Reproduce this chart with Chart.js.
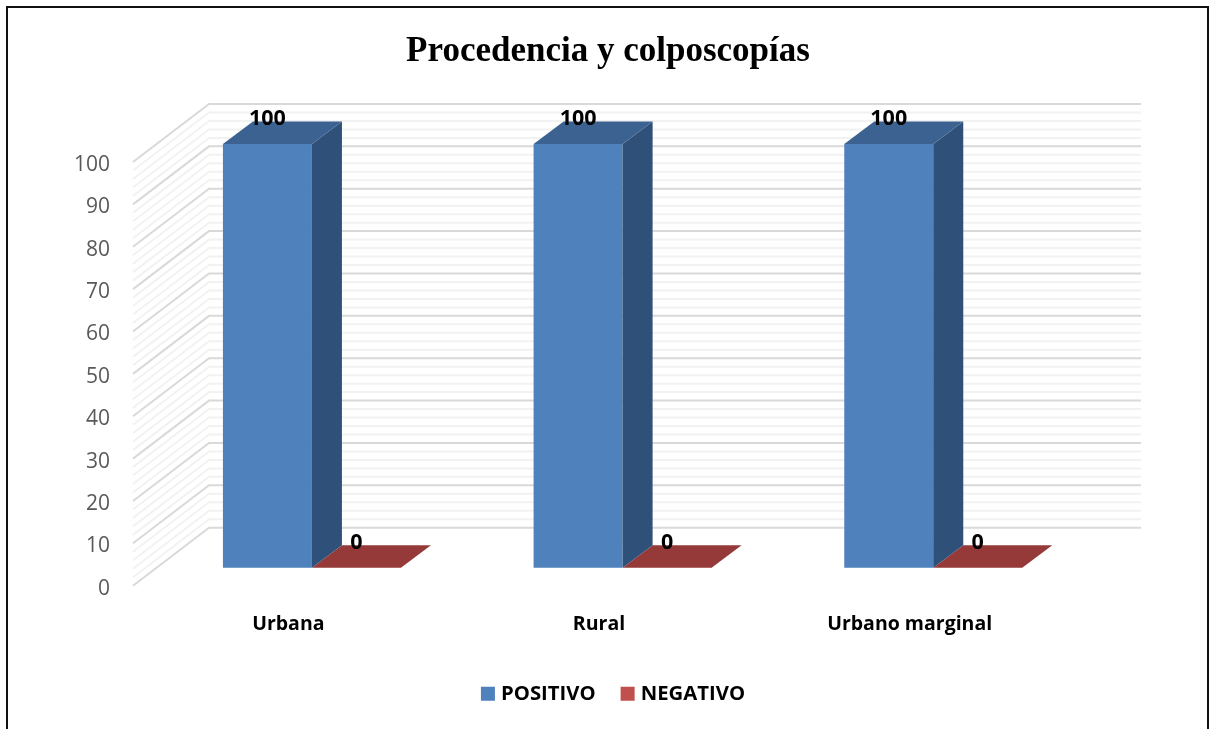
<!DOCTYPE html>
<html>
<head>
<meta charset="utf-8">
<title>Procedencia y colposcopías</title>
<script src="https://cdn.jsdelivr.net/npm/chart.js@4"></script>
<style>
  html, body { margin: 0; padding: 0; background: #fff; }
  #frame {
    position: absolute; left: 6px; top: 6px; width: 1199px; height: 723px;
    border: 2px solid #111; border-bottom: none;
  }
  #chart { position: absolute; left: 0; top: 0; }
</style>
</head>
<body>
<div id="frame"></div>
<canvas id="chart" width="1209" height="729"></canvas>
<script>
const chartTitle = "Procedencia y colposcopías";
const categories = ["Urbana", "Rural", "Urbano marginal"];
const positivo = [100, 100, 100];
const negativo = [0, 0, 0];
const seriesNames = ["POSITIVO", "NEGATIVO"];
const frontColors = ["#4f81bd", "#c0504d"];
const topColors = ["#3c6291", "#953a38"];
const sideColors = ["#2f5078", "#7a2f2d"];

// fake 3d: how far the back wall and the bars sit behind the axis plane
const wallDepth = { x: 76, y: -58 };
const barOffset = { x: 23.6, y: -18 };
const barDepth = { x: 30, y: -22.5 };

const uiFont = "'Open Sans', sans-serif";

function face(ctx, color, pts) {
  ctx.fillStyle = color;
  ctx.beginPath();
  pts.forEach((p, i) => (i === 0 ? ctx.moveTo(p[0], p[1]) : ctx.lineTo(p[0], p[1])));
  ctx.closePath();
  ctx.fill();
}

const fake3d = {
  id: "fake3d",
  // legend sits a bit right of the page centre
  afterLayout(chart) {
    chart.legend.left += 7;
    chart.legend.right += 7;
  },
  // side wall and back wall grid, major every 10, minor every 2
  beforeDatasetsDraw(chart) {
    const { ctx, chartArea, scales } = chart;
    const y = scales.y;
    const wallRight = chartArea.right + wallDepth.x;
    ctx.save();
    for (let v = 0; v <= 100; v += 2) {
      const py = y.getPixelForValue(v);
      ctx.strokeStyle = v % 10 === 0 ? "#d9d9d9" : "#f2f2f2";
      ctx.lineWidth = 2;
      ctx.beginPath();
      ctx.moveTo(chartArea.left, py);
      ctx.lineTo(chartArea.left + wallDepth.x, py + wallDepth.y);
      ctx.lineTo(wallRight, py + wallDepth.y);
      ctx.stroke();
    }
    ctx.restore();
  },
  beforeDatasetDraw(chart) {
    chart.ctx.save();
    chart.ctx.translate(barOffset.x, barOffset.y);
  },
  afterDatasetDraw(chart, args) {
    const ctx = chart.ctx;
    const i = args.index;
    args.meta.data.forEach((bar) => {
      const l = bar.x - bar.width / 2;
      const r = bar.x + bar.width / 2;
      const t = bar.y;
      const b = bar.base;
      const dx = barDepth.x;
      const dy = barDepth.y;
      if (b > t) {
        face(ctx, sideColors[i], [[r, t], [r + dx, t + dy], [r + dx, b + dy], [r, b]]);
      }
      face(ctx, topColors[i], [[l, t], [r, t], [r + dx, t + dy], [l + dx, t + dy]]);
    });
    ctx.restore();
  },
  afterDatasetsDraw(chart) {
    const ctx = chart.ctx;
    ctx.save();
    ctx.font = "bold 21.5px " + uiFont;
    ctx.fillStyle = "#000";
    ctx.textAlign = "center";
    ctx.textBaseline = "middle";
    chart.data.datasets.forEach((ds, i) => {
      chart.getDatasetMeta(i).data.forEach((bar, j) => {
        ctx.fillText(ds.data[j], bar.x + barOffset.x, bar.y + barOffset.y - 25);
      });
    });
    ctx.restore();
  },
};

new Chart(document.getElementById("chart"), {
  type: "bar",
  data: {
    labels: categories,
    datasets: [
      { label: seriesNames[0], data: positivo, backgroundColor: frontColors[0], clip: false },
      { label: seriesNames[1], data: negativo, backgroundColor: frontColors[1], clip: false },
    ],
  },
  options: {
    responsive: false,
    animation: false,
    barPercentage: 1,
    categoryPercentage: 0.573,
    layout: { padding: { left: 7, right: 0, top: 0, bottom: 15 } },
    plugins: {
      title: {
        display: true,
        text: chartTitle,
        color: "#000",
        font: { family: "'Liberation Serif', serif", size: 35, weight: "bold" },
        padding: { top: 31, bottom: 89 },
      },
      legend: {
        position: "bottom",
        labels: {
          color: "#000",
          font: { family: uiFont, size: 20.3, weight: "bold" },
          usePointStyle: true,
          pointStyle: "rect",
          boxWidth: 6,
          boxHeight: 14,
          padding: 29,
        },
      },
      tooltip: { enabled: false },
    },
    scales: {
      x: {
        grid: { display: false },
        border: { display: false },
        ticks: { color: "#000", padding: 19, font: { family: uiFont, size: 19.5, weight: "bold" } },
        afterFit(s) { s.height = 69; },
      },
      y: {
        min: 0,
        max: 100,
        grid: { display: false },
        border: { display: false },
        ticks: { stepSize: 10, color: "#595959", padding: 15, labelOffset: 3, font: { family: uiFont, size: 21 } },
        afterFit(s) { s.width = 126; },
      },
      // empty axis, only keeps the plot clear of the right side
      rightGap: {
        position: "right",
        grid: { display: false },
        border: { display: false },
        ticks: { display: false },
        afterFit(s) { s.width = 144; },
      },
    },
  },
  plugins: [fake3d],
});
</script>
</body>
</html>
